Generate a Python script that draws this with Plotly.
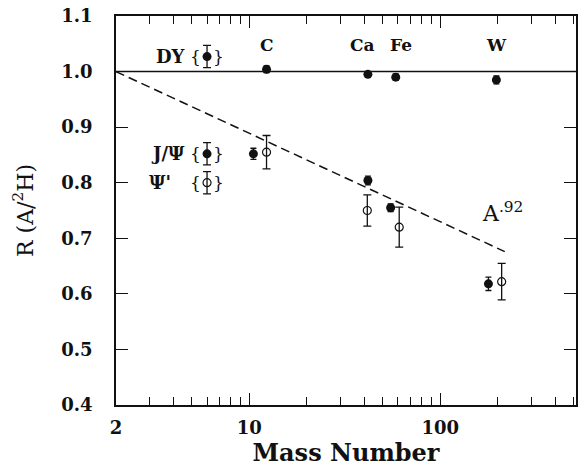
import plotly.graph_objects as go
import math

# ---- data ----
dy_A = [12.3, 41.8, 58.5, 197]
dy_R = [1.004, 0.995, 0.990, 0.985]
dy_err = [0.006, 0.004, 0.006, 0.007]

jpsi_A = [10.5, 41.8, 55, 179]
jpsi_R = [0.852, 0.804, 0.755, 0.618]
jpsi_err = [0.010, 0.008, 0.007, 0.012]

psip_A = [12.3, 41.5, 61, 210]
psip_R = [0.855, 0.750, 0.720, 0.622]
psip_err = [0.030, 0.028, 0.036, 0.033]

fit_A = [2, 218]
fit_R = [1.0, 0.676]

ref_A = [2, 520]
ref_R = [1.0, 1.0]

key_A = [6.0, 6.0, 6.0]
key_R = [1.027, 0.852, 0.800]
key_err = [0.020, 0.020, 0.020]

element_labels = ["C", "Ca", "Fe", "W"]
element_A = [12.4, 39.3, 62.5, 197]
element_R = 1.047

x_tickvals = [2, 10, 100]
x_minor = [3, 4, 5, 6, 7, 8, 9, 20, 30, 40, 50, 60, 70, 80, 90, 200, 300, 400, 500]
y_tickvals = [0.4, 0.5, 0.6, 0.7, 0.8, 0.9, 1.0, 1.1]

FONT = "DejaVu Serif"
BLACK = "#111111"
X_RANGE = [math.log10(2), math.log10(515)]

fig = go.Figure()

# reference line drawn against the top (mirror) axis, which shares the range
fig.add_trace(go.Scatter(x=ref_A, y=ref_R, mode="lines", xaxis="x2",
                         line=dict(color=BLACK, width=1.5), showlegend=False))
fig.add_trace(go.Scatter(x=fit_A, y=fit_R, mode="lines",
                         line=dict(color=BLACK, width=1.5, dash="9px,5px"), showlegend=False))

def err(vals, w=4):
    return dict(type="data", array=vals, color=BLACK, thickness=1.3, width=w)

fig.add_trace(go.Scatter(x=dy_A, y=dy_R, mode="markers", error_y=err(dy_err, 3),
                         marker=dict(symbol="circle", size=9, color=BLACK), showlegend=False))
fig.add_trace(go.Scatter(x=jpsi_A, y=jpsi_R, mode="markers", error_y=err(jpsi_err, 3),
                         marker=dict(symbol="circle", size=9, color=BLACK), showlegend=False))
fig.add_trace(go.Scatter(x=psip_A, y=psip_R, mode="markers", error_y=err(psip_err, 4),
                         marker=dict(symbol="circle-open", size=8, color=BLACK, line=dict(width=1.2)),
                         showlegend=False))
# key symbols
fig.add_trace(go.Scatter(x=key_A[:2], y=key_R[:2], mode="markers", error_y=err(key_err[:2], 4),
                         marker=dict(symbol="circle", size=9, color=BLACK), showlegend=False))
fig.add_trace(go.Scatter(x=key_A[2:], y=key_R[2:], mode="markers", error_y=err(key_err[2:], 4),
                         marker=dict(symbol="circle-open", size=8, color=BLACK, line=dict(width=1.2)),
                         showlegend=False))

ann = []
lab_font = dict(family=FONT, size=17, color=BLACK)
for lab, a in zip(element_labels, element_A):
    ann.append(dict(x=math.log10(a), y=element_R, text="<b>%s</b>" % lab, showarrow=False, font=lab_font))

key_texts = ["<b>DY</b>", "<b>J/Ψ</b>", "<b>Ψ'</b>"]
key_text_A = [3.87, 3.75, 3.40]
for t, a, r in zip(key_texts, key_text_A, key_R):
    ann.append(dict(x=math.log10(a), y=r, text=t, showarrow=False,
                    font=dict(family=FONT, size=18, color=BLACK)))
for r in key_R:
    ann.append(dict(x=math.log10(5.25), y=r, text="{", showarrow=False,
                    font=dict(family=FONT, size=17, color=BLACK)))
    ann.append(dict(x=math.log10(6.85), y=r, text="}", showarrow=False,
                    font=dict(family=FONT, size=17, color=BLACK)))
ann.append(dict(x=math.log10(212), y=0.748, text="A<sup>.92</sup>", showarrow=False,
                font=dict(family=FONT, size=22, color=BLACK)))

tick_common = dict(ticks="inside", ticklen=12, tickwidth=1.3, tickcolor=BLACK)
minor_common = dict(tickmode="array", tickvals=x_minor, ticks="inside", ticklen=8,
                    tickwidth=1.3, tickcolor=BLACK, showgrid=False)

fig.update_layout(
    width=579, height=472,
    margin=dict(l=116, r=1, t=16, b=67),
    paper_bgcolor="white", plot_bgcolor="white",
    font=dict(family=FONT, color=BLACK),
    annotations=ann,
    xaxis=dict(type="log", range=X_RANGE,
               tickmode="array", tickvals=x_tickvals, ticktext=[str(v) for v in x_tickvals],
               minor=minor_common, **tick_common,
               showline=True, linecolor=BLACK, linewidth=1.5,
               showgrid=False, zeroline=False, ticklabelstandoff=6,
               tickfont=dict(family=FONT, size=18, color=BLACK, weight="bold"),
               title=dict(text="<b>Mass Number</b>", font=dict(family=FONT, size=24, color=BLACK),
                          standoff=4)),
    xaxis2=dict(type="log", range=X_RANGE, overlaying="x", side="top",
                tickmode="array", tickvals=x_tickvals, showticklabels=False,
                minor=minor_common, **tick_common,
                showline=True, linecolor=BLACK, linewidth=1.5,
                showgrid=False, zeroline=False),
    yaxis=dict(range=[0.4, 1.1], tickmode="array", tickvals=y_tickvals,
               ticktext=["%.1f" % v for v in y_tickvals], **tick_common,
               showline=True, linecolor=BLACK, linewidth=1.5, mirror="ticks",
               showgrid=False, zeroline=False, ticklabelstandoff=18,
               tickfont=dict(family=FONT, size=18, color=BLACK, weight="bold"),
               title=dict(text="R (A/<sup>2</sup>H)", font=dict(family=FONT, size=22, color=BLACK),
                          standoff=22)),
)

fig.write_html("out.html", post_script="document.body.style.margin='0';",
               config={"displayModeBar": False})
